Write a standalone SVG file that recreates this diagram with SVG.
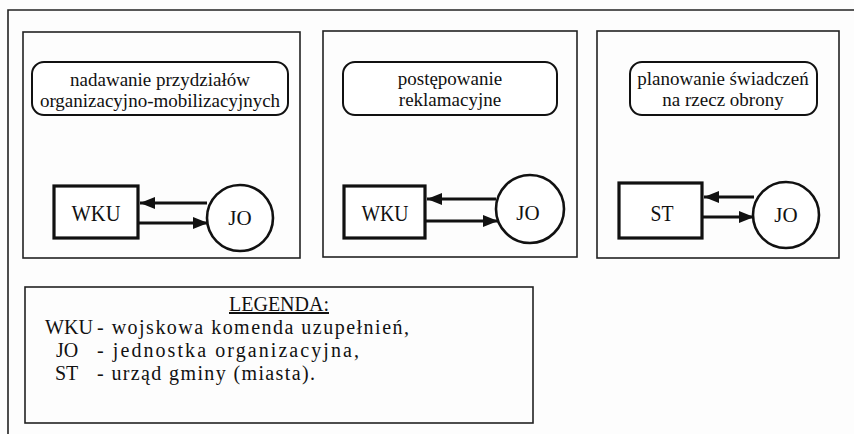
<svg xmlns="http://www.w3.org/2000/svg" width="854" height="434" viewBox="0 0 854 434">
<defs>
<marker id="ah" markerUnits="userSpaceOnUse" markerWidth="16" markerHeight="12" refX="15" refY="6" orient="auto">
<path d="M0,0 L15,6 L0,12 Z" fill="#111"/>
</marker>
<style>
.frame{fill:none;stroke:#222;stroke-width:1.6}
.lbl{fill:#fff;stroke:#111;stroke-width:2}
.box{fill:#fff;stroke:#111;stroke-width:3.2}
.circ{fill:#fff;stroke:#111;stroke-width:2.6}
text{fill:#111}
.lt{font-size:19px;text-anchor:middle}
.nt{font-size:24px;text-anchor:middle}
.jo{font-size:21px;text-anchor:middle}
.lg{font-size:20px}
.con{stroke:#111;stroke-width:3;fill:none;marker-end:url(#ah)}
</style>
</defs>
<rect width="854" height="434" fill="#fdfdfd"/>
<path class="frame" d="M8,434 V10 H854"/>
<g font-family="Liberation Serif, DejaVu Serif, serif">
<g id="panel1">
<rect class="frame" x="23" y="32" width="277" height="226"/>
<rect class="lbl" x="32" y="62" width="256" height="53" rx="12"/>
<text class="lt" x="160" y="86">nadawanie przydziałów</text>
<text class="lt" x="160" y="107">organizacyjno-mobilizacyjnych</text>
</g>
<g id="wku1">
<rect class="box" x="54" y="186" width="84" height="52"/>
<text class="nt" x="96" y="221" textLength="49" lengthAdjust="spacingAndGlyphs">WKU</text>
</g>
<g id="jo1">
<circle class="circ" cx="240" cy="218" r="33"/>
<text class="jo" x="240" y="225">JO</text>
</g>

<g id="panel2">
<rect class="frame" x="323" y="31" width="254" height="226"/>
<rect class="lbl" x="343" y="62" width="214" height="53" rx="12"/>
<text class="lt" x="450" y="85">postępowanie</text>
<text class="lt" x="450" y="106">reklamacyjne</text>
</g>
<g id="wku2">
<rect class="box" x="344" y="186" width="81" height="52"/>
<text class="nt" x="385" y="221" textLength="47" lengthAdjust="spacingAndGlyphs">WKU</text>
</g>
<g id="jo2">
<circle class="circ" cx="530" cy="209" r="34"/>
<text class="jo" x="528" y="220">JO</text>
</g>

<g id="panel3">
<rect class="frame" x="597" y="31" width="242" height="227"/>
<rect class="lbl" x="630" y="62" width="187" height="53" rx="12"/>
<text class="lt" x="723" y="85">planowanie świadczeń</text>
<text class="lt" x="723" y="106">na rzecz obrony</text>
</g>
<g id="st3">
<rect class="box" x="619" y="183" width="83" height="55"/>
<text class="nt" x="662" y="221" textLength="23" lengthAdjust="spacingAndGlyphs">ST</text>
</g>
<g id="jo3">
<circle class="circ" cx="786" cy="215" r="33"/>
<text class="jo" x="786" y="222">JO</text>
</g>

<g id="connectors">
<line class="con" x1="207" y1="203" x2="140" y2="203"/>
<line class="con" x1="139" y1="223" x2="208" y2="223"/>
<line class="con" x1="496" y1="199" x2="427" y2="199"/>
<line class="con" x1="426" y1="221" x2="498" y2="221"/>
<line class="con" x1="754" y1="197" x2="704" y2="197"/>
<line class="con" x1="703" y1="217" x2="754" y2="217"/>
</g>

<g id="legend">
<rect class="frame" x="25" y="287" width="508" height="136"/>
<text class="lg" x="279" y="311" text-anchor="middle" text-decoration="underline" font-size="21">LEGENDA:</text>
<text class="lg" x="45" y="334" textLength="48" lengthAdjust="spacingAndGlyphs">WKU</text>
<text class="lg" x="97" y="334" textLength="312">- wojskowa komenda uzupełnień,</text>
<text class="lg" x="56" y="357">JO</text>
<text class="lg" x="97" y="357" textLength="262">- jednostka organizacyjna,</text>
<text class="lg" x="55" y="380">ST</text>
<text class="lg" x="97" y="380" textLength="218">- urząd gminy (miasta).</text>
</g>
</g>
</svg>
